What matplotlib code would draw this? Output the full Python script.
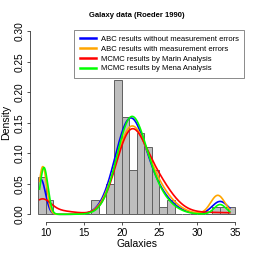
import numpy as np
import matplotlib
matplotlib.use('Agg')
import matplotlib.pyplot as plt

plt.rcParams['font.family'] = ['Liberation Sans', 'DejaVu Sans']

# histogram of galaxy velocities (density, bin width 1, from 9 to 35)
bin_left = list(range(9, 35))
bin_density = [0.061, 0.024, 0, 0, 0, 0, 0, 0.024, 0, 0.049, 0.220, 0.159, 0.073,
               0.134, 0.110, 0.073, 0.012, 0.024, 0, 0, 0, 0, 0, 0.012, 0.012, 0.012]

# fitted mixture curves: weights, means, sds of the normal components
labels = ['ABC results without measurement errors',
          'ABC results with measurement errors',
          'MCMC results by Marin Analysis',
          'MCMC results by Mena Analysis']
colors = ['blue', 'orange', 'red', '#00FF00']
weights = [[0.086, 0.60, 0.30, 0.056],
           [0.098, 0.55, 0.32, 0.074],
           [0.055, 0.04, 0.55, 0.33, 0.03],
           [0.100, 0.60, 0.27, 0.032]]
means = [[9.35, 20.9, 23.3, 33.0],
         [9.60, 21.0, 23.6, 32.7],
         [9.5, 11.0, 21.0, 24.2, 32.0],
         [9.75, 21.1, 23.3, 33.0]]
sds = [[0.60, 1.90, 2.50, 1.06],
       [0.50, 1.95, 2.50, 0.95],
       [1.10, 2.50, 1.90, 2.30, 4.0],
       [0.52, 1.85, 2.40, 0.80]]
x_min, x_max = 9.17, 34.28


def mix_density(x, w, m, s):
    y = np.zeros_like(x)
    for wi, mi, si in zip(w, m, s):
        y += wi * np.exp(-0.5 * ((x - mi) / si) ** 2) / (si * np.sqrt(2 * np.pi))
    return y


fig = plt.figure(figsize=(2.59, 2.59), dpi=100)
ax = fig.add_axes([0.1174, 0.1444, 0.8212, 0.7629])

ax.bar(bin_left, bin_density, width=1, align='edge', color='#BEBEBE',
       edgecolor='#606060', linewidth=0.7)

xs = np.linspace(x_min, x_max, 600)
for lab, col, w, m, s in zip(labels, colors, weights, means, sds):
    ax.plot(xs, mix_density(xs, w, m, s), color=col, lw=1.2, label=lab)

ax.set_xlim(7.96, 36.04)
ax.set_ylim(-0.012, 0.312)
ax.set_xticks([10, 15, 20, 25, 30, 35])
ax.set_yticks([0.0, 0.05, 0.10, 0.15, 0.20, 0.25, 0.30])
ax.set_yticklabels(['0.00', '0.05', '0.10', '0.15', '0.20', '0.25', '0.30'],
                   rotation=90, va='center')
for sp in ['top', 'right']:
    ax.spines[sp].set_visible(False)
ax.spines['left'].set_bounds(0, 0.30)
ax.spines['bottom'].set_bounds(10, 35)
for sp in ['left', 'bottom']:
    ax.spines[sp].set_linewidth(0.6)
    ax.spines[sp].set_color('#333333')
ax.tick_params(length=2.5, width=0.6, color='#333333', labelsize=7.3, pad=1.8)
ax.tick_params(axis='y', pad=2.0)
ax.patch.set_alpha(0)

ax.set_xlabel('Galaxies', fontsize=7.6, labelpad=1)
ax.set_ylabel('Density', fontsize=7.6, labelpad=2)
fig.text(136.5 / 259, 1 - 15.3 / 259, 'Galaxy data (Roeder 1990)', fontsize=5.5,
         fontweight='bold', ha='center', va='center')

leg = ax.legend(loc='upper left', bbox_to_anchor=(74 / 259, 1 - 30 / 259),
                bbox_transform=fig.transFigure, fontsize=5.5, frameon=True,
                fancybox=False, edgecolor='#777777', framealpha=1,
                borderpad=0.75, labelspacing=0.32, handlelength=2.1,
                handletextpad=0.65, borderaxespad=0)
leg.get_frame().set_linewidth(0.6)
for line in leg.get_lines():
    line.set_linewidth(1.8)

fig.savefig('out.png', dpi=100)
